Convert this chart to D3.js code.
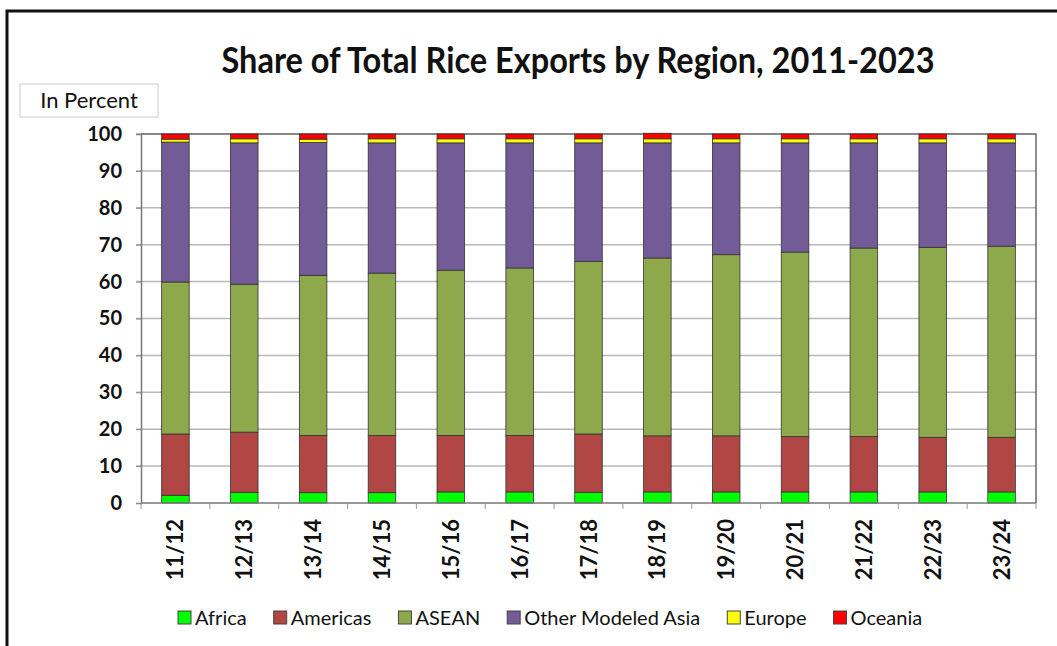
<!DOCTYPE html>
<html>
<head>
<meta charset="utf-8">
<script src="https://cdn.jsdelivr.net/npm/d3@7"></script>
<style>
  body { margin: 0; background: #fff; }
  svg { display: block; }
</style>
</head>
<body>
<svg id="chart"></svg>
<script>
// marketing years and region shares
const years = ["11/12", "12/13", "13/14", "14/15", "15/16", "16/17", "17/18",
  "18/19", "19/20", "20/21", "21/22", "22/23", "23/24"];
const regions = ["Africa", "Americas", "ASEAN", "Other Modeled Asia", "Europe", "Oceania"];
const africa   = [2.1, 2.9, 2.8, 2.8, 3.0, 3.0, 2.9, 3.0, 3.0, 3.0, 3.0, 3.0, 3.0];
const americas = [16.6, 16.3, 15.5, 15.5, 15.3, 15.3, 15.8, 15.2, 15.2, 15.0, 15.0, 14.8, 14.8];
const asean    = [41.2, 40.1, 43.4, 44.0, 44.8, 45.4, 46.8, 48.2, 49.1, 50.0, 51.1, 51.5, 51.8];
const otherAsia = [37.9, 38.3, 36.0, 35.3, 34.5, 33.9, 32.1, 31.2, 30.3, 29.6, 28.5, 28.3, 28.0];
const europe   = [0.8, 1.1, 0.9, 1.1, 1.1, 1.1, 1.1, 1.1, 1.1, 1.1, 1.1, 1.1, 1.1];
const oceania  = [1.4, 1.3, 1.4, 1.3, 1.3, 1.3, 1.3, 1.5, 1.3, 1.3, 1.3, 1.3, 1.3];
const yTicks = [0, 10, 20, 30, 40, 50, 60, 70, 80, 90, 100];

const colors = ["#00ff00", "#b04744", "#8ea84c", "#735b97", "#ffff00", "#ff0000"];
const series = [africa, americas, asean, otherAsia, europe, oceania];

const width = 1057, height = 646;
const svg = d3.select("#chart").attr("width", width).attr("height", height)
  .style("font-family", "Lato, sans-serif");

// outer frame (top and left edge only visible)
svg.append("path")
  .attr("d", `M7,${height} L7,11 L${width},11`)
  .attr("fill", "none").attr("stroke", "#111").attr("stroke-width", 3);

const plot = { left: 141, right: 1036, top: 134, bottom: 503 };

const x = d3.scaleBand().domain(years)
  .range([plot.left, plot.right]).paddingInner(0.6).paddingOuter(0.3);
const y = d3.scaleLinear().domain([0, 100]).range([plot.bottom, plot.top]);

// gridlines
svg.append("g").selectAll("line").data(yTicks.slice(1)).join("line")
  .attr("x1", plot.left - 5).attr("x2", plot.right)
  .attr("y1", d => y(d)).attr("y2", d => y(d))
  .attr("stroke", "#b8b8b8").attr("stroke-width", 1.5);

// plot border on top/right
svg.append("path")
  .attr("d", `M${plot.left},${plot.top} L${plot.right},${plot.top} L${plot.right},${plot.bottom}`)
  .attr("fill", "none").attr("stroke", "#444").attr("stroke-width", 1.2);

// stacked bars
const table = years.map((yr, i) => {
  const row = { year: yr };
  regions.forEach((r, j) => { row[r] = series[j][i]; });
  return row;
});
const stacked = d3.stack().keys(regions)(table);

svg.append("g").selectAll("g").data(stacked).join("g")
  .attr("fill", (d, i) => colors[i])
  .selectAll("rect").data(d => d).join("rect")
  .attr("x", d => x(d.data.year))
  .attr("width", x.bandwidth())
  .attr("y", d => y(d[1]))
  .attr("height", d => y(d[0]) - y(d[1]))
  .attr("stroke", "#333").attr("stroke-width", 0.8);

// y axis
const yAxis = svg.append("g")
  .attr("transform", `translate(${plot.left},0)`)
  .call(d3.axisLeft(y).tickValues(yTicks).tickSize(5).tickPadding(14));
yAxis.select(".domain").attr("stroke", "#777").attr("stroke-width", 1.5);
yAxis.selectAll(".tick line").attr("stroke", "#888");
yAxis.selectAll("text").attr("font-family", "Lato, sans-serif")
  .attr("font-size", 20).attr("font-weight", "bold").attr("fill", "#111");

// x axis with ticks at band boundaries
const xg = svg.append("g").attr("transform", `translate(0,${plot.bottom})`);
xg.append("line").attr("x1", plot.left).attr("x2", plot.right)
  .attr("stroke", "#777").attr("stroke-width", 1.5);
const bounds = years.map(d => x(d) - x.step() * x.paddingInner() / 2)
  .concat([plot.right]);
bounds[0] = plot.left;
xg.selectAll("line.tk").data(bounds).join("line").attr("class", "tk")
  .attr("x1", d => d).attr("x2", d => d).attr("y1", 0).attr("y2", 6)
  .attr("stroke", "#999");
xg.selectAll("text").data(years).join("text")
  .attr("transform", d => `translate(${x(d) + x.bandwidth() / 2 + 8},16) rotate(-90)`)
  .attr("text-anchor", "end")
  .attr("font-size", 22).attr("font-weight", "bold").attr("fill", "#111")
  .text(d => d);

// title
svg.append("text")
  .attr("x", 578).attr("y", 73).attr("text-anchor", "middle")
  .attr("font-size", 36).attr("font-weight", "bold").attr("fill", "#111")
  .attr("textLength", 713).attr("lengthAdjust", "spacingAndGlyphs")
  .text("Share of Total Rice Exports by Region, 2011-2023");

// unit box
svg.append("rect").attr("x", 20).attr("y", 84).attr("width", 138).attr("height", 33)
  .attr("fill", "#fff").attr("stroke", "#ccc");
svg.append("text").attr("x", 89).attr("y", 108).attr("text-anchor", "middle")
  .attr("font-size", 22).attr("fill", "#111").text("In Percent");

// legend
const legend = svg.append("g").attr("transform", "translate(178,618)");
let lx = 0;
regions.forEach((r, i) => {
  const item = legend.append("g").attr("transform", `translate(${lx},0)`);
  item.append("rect").attr("x", 0).attr("y", -7).attr("width", 13).attr("height", 13)
    .attr("fill", colors[i]).attr("stroke", "#444").attr("stroke-width", 1);
  const t = item.append("text").attr("x", 17).attr("y", 7)
    .attr("font-size", 20).attr("fill", "#111").text(r);
  lx += 17 + t.node().getComputedTextLength() + 27;
});
</script>
</body>
</html>
